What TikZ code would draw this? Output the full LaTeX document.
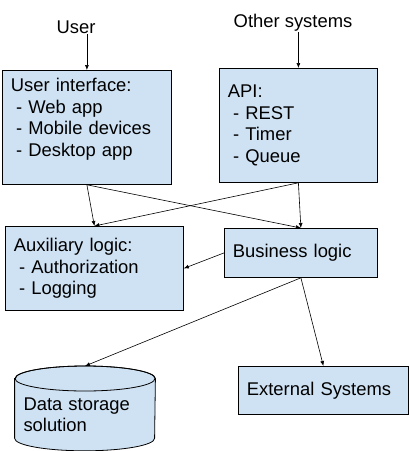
\documentclass[tikz,border=0pt]{standalone}
\usepackage{fontspec}
\setmainfont{Liberation Sans}
\definecolor{boxblue}{RGB}{207, 226, 243}
\usetikzlibrary{arrows.meta, positioning, backgrounds}
\newcommand{\subpoint}{\hspace*{0.28em}- }

\tikzset{
  boxline/.style={draw=black, fill=boxblue, line width=0.8pt},
  layerbox/.style={boxline, align=left, anchor=north west, inner xsep=8.5pt, inner ysep=0pt, font=\fontsize{18.4}{21.5}\selectfont},
  actor/.style={font=\fontsize{18.4}{21.5}\selectfont, inner sep=1pt, anchor=base},
  flow/.style={-{Latex[length=5pt, width=4pt]}, line width=0.6pt},
}

\begin{document}
\begin{tikzpicture}[x=1pt, y=-1pt]
  \useasboundingbox (0, 0) rectangle (409, 451);

  % Who calls in
  \node[actor] (user) at (76, 33) {User};
  \node[actor] (other) at (293, 27) {Other systems};

  % Entry points
  \node[layerbox, text width=152pt, minimum height=114pt] (ui) at (2, 70) {
    User interface:\\
    \subpoint Web app\\
    \subpoint Mobile devices\\
    \subpoint Desktop app\rule[-20pt]{0pt}{20pt}
  };
  \node[layerbox, text width=141pt, minimum height=114pt] (api) at (219, 68) {
    API:\\
    \subpoint REST\\
    \subpoint Timer\\
    \subpoint Queue
  };

  % Logic layer
  \node[layerbox, text width=161pt, minimum height=84pt] (aux) at (5, 226) {
    Auxiliary logic:\\
    \subpoint Authorization\\
    \subpoint Logging
  };
  \node[layerbox, text width=136pt, minimum height=49pt] (biz) at (224, 228) {Business logic};

  % Storage (cylinder drawn round the node) and outside world
  \node[layerbox, draw=none, fill=none, text width=123pt, minimum height=84pt, anchor=north] (store) at (85, 366) {
    \rule{0pt}{25pt}Data storage\\
    solution
  };
  \begin{scope}[on background layer]
    \path[boxline] ([yshift=-12.5pt]store.north west) -- ([yshift=12.5pt]store.south west)
      arc[start angle=180, end angle=360, x radius=70pt, y radius=12.5pt]
      -- ([yshift=-12.5pt]store.north east)
      arc[start angle=0, end angle=180, x radius=70pt, y radius=12.5pt] -- cycle;
    \draw[line width=0.8pt] ([yshift=-12.5pt]store.north) ellipse[x radius=70pt, y radius=12.5pt];
  \end{scope}
  \node[layerbox, text width=153pt, minimum height=48pt] (ext) at (238, 366) {External Systems};

  % Connectors
  \draw[flow] (user.south -| ui.north) -- (ui.north);
  \draw[flow] (other.south -| api.north) -- (api.north);
  \draw[flow] (ui.south) -- (aux.north);
  \draw[flow] (ui.south) -- (biz.north);
  \draw[flow] (api.south) -- (aux.north);
  \draw[flow] (api.south) -- (biz.north);
  \draw[flow] (biz.west) -- (aux.east);
  \draw[flow] (biz.south) -- (store.north);
  \draw[flow] (biz.south) -- (ext.north);
\end{tikzpicture}
\end{document}
